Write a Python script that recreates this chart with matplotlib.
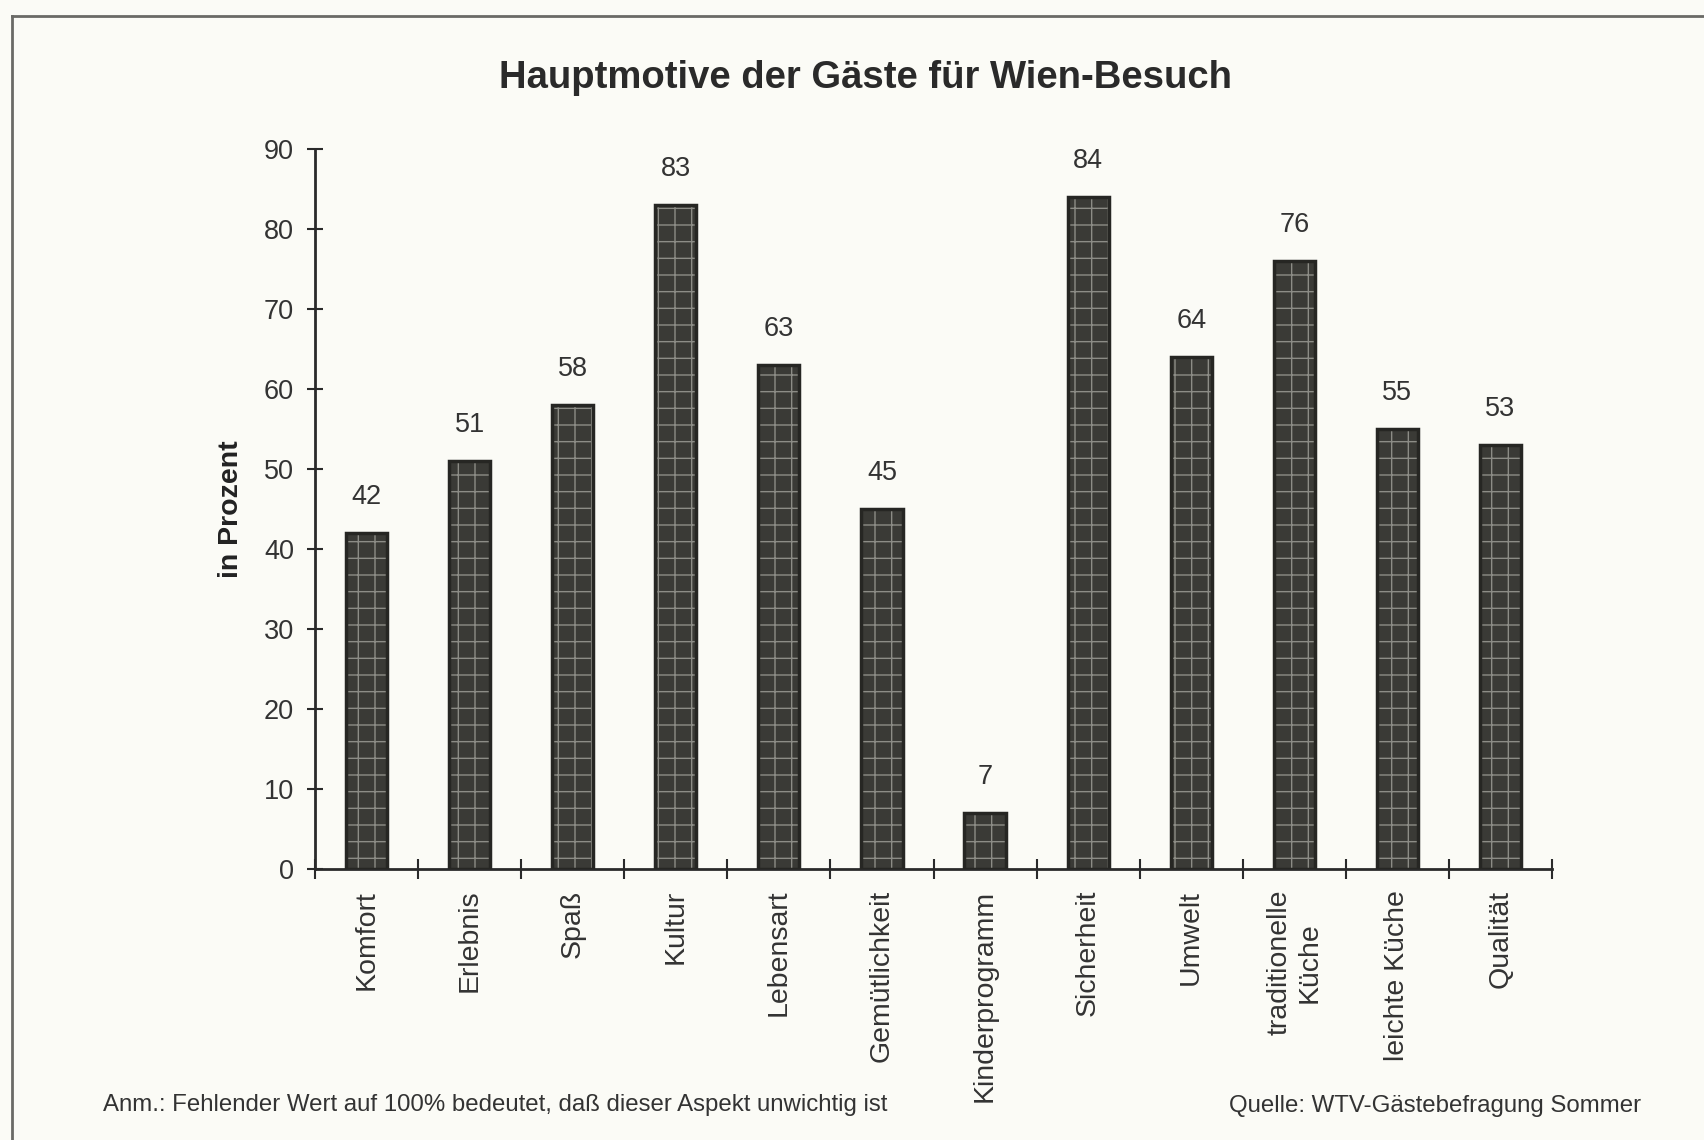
import matplotlib
matplotlib.use("Agg")
import matplotlib.pyplot as plt
import numpy as np
from matplotlib.lines import Line2D

categories = ["Komfort", "Erlebnis", "Spaß", "Kultur", "Lebensart", "Gemütlichkeit",
              "Kinderprogramm", "Sicherheit", "Umwelt", "traditionelle\nKüche",
              "leichte Küche", "Qualität"]
values = [42, 51, 58, 83, 63, 45, 7, 84, 64, 76, 55, 53]
yticks = [0, 10, 20, 30, 40, 50, 60, 70, 80, 90]

title = "Hauptmotive der Gäste für Wien-Besuch"
ylabel = "in Prozent"
note = "Anm.: Fehlender Wert auf 100% bedeutet, daß dieser Aspekt unwichtig ist"
source = "Quelle: WTV-Gästebefragung Sommer"

plt.rcParams['font.family'] = ['Liberation Sans', 'DejaVu Sans']
plt.rcParams['hatch.linewidth'] = 1.0

bg = "#fbfbf6"
dark = "#3a3a36"
textc = "#333333"

fig = plt.figure(figsize=(17.04, 11.4), dpi=100, facecolor=bg)
ax = fig.add_axes([315/1704, 1-869/1140, (1552-315)/1704, (869-149)/1140])
ax.set_facecolor(bg)

x = np.arange(len(categories))
bw = 0.4
ax.bar(x, values, width=bw, color=dark, edgecolor='none', zorder=2)
ax.bar(x, values, width=bw, color='none', edgecolor='#8c8c86', hatch='+', linewidth=0, zorder=3)
ax.bar(x, values, width=bw, color='none', edgecolor='#262623', linewidth=2.5, zorder=4)

for xi, v in zip(x, values):
    ax.annotate(str(v), (xi, v), xytext=(0, 26), textcoords='offset points',
                ha='center', va='center', fontsize=19.5, color=textc)

ax.set_xlim(-0.5, len(categories) - 0.5)
ax.set_ylim(0, 90)
ax.set_yticks(yticks)
ax.set_yticklabels([str(t) for t in yticks], fontsize=19.5, color=textc)
ax.tick_params(axis='y', direction='inout', length=12, width=1.5, color='#2a2a2a', pad=9)

ax.set_xticks(x)
ax.set_xticklabels(categories, rotation=90, fontsize=20.5, color=textc,
                   va='top', ha='center', multialignment='center')
ax.tick_params(axis='x', which='major', length=0, pad=15)
ax.set_xticks(np.arange(-0.5, len(categories), 1.0), minor=True)
ax.tick_params(axis='x', which='minor', direction='inout', length=14, width=1.5, color='#2a2a2a')

for s in ['top', 'right']:
    ax.spines[s].set_visible(False)
for s in ['left', 'bottom']:
    ax.spines[s].set_linewidth(2)
    ax.spines[s].set_color('#2a2a2a')

ax.set_ylabel(ylabel, fontsize=20.5, fontweight='bold', color='#222222')
ax.yaxis.set_label_coords(-(315-244)/(1552-315), 0.5)

fig.text(866/1704, 1-78/1140, title, ha='center', va='center', fontsize=27.5,
         fontweight='bold', color='#2a2a2a')
fig.text(103/1704, 1-1105/1140, note, ha='left', va='center', fontsize=17.3, color=textc)
fig.text(1641/1704, 1-1106/1140, source, ha='right', va='center', fontsize=17.3, color=textc)

# scanned page frame (top and left edges)
fig.add_artist(Line2D([12/1704, 1.0], [1-16/1140, 1-16/1140], transform=fig.transFigure,
                      color='#6a6a66', linewidth=2))
fig.add_artist(Line2D([12/1704, 12/1704], [1-16/1140, 0.0], transform=fig.transFigure,
                      color='#6a6a66', linewidth=2))

fig.savefig("out.png", dpi=100, facecolor=bg)
